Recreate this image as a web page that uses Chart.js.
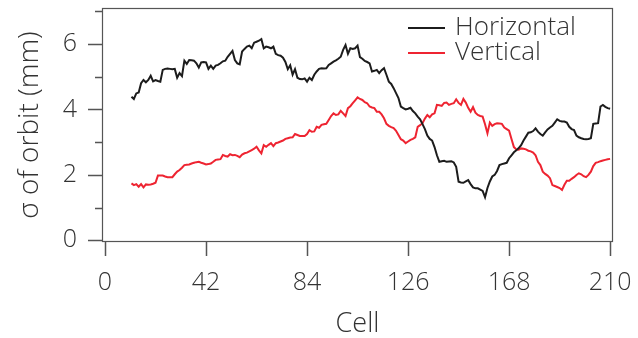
<!DOCTYPE html>
<html>
<head>
<meta charset="utf-8">
<script src="https://cdn.jsdelivr.net/npm/chart.js@4.4.1/dist/chart.umd.min.js"></script>
<style>
  html, body { margin: 0; padding: 0; background: #ffffff; }
  #wrap { width: 638px; height: 338px; }
</style>
</head>
<body>
<div id="wrap"><canvas id="c" width="638" height="338"></canvas></div>
<script>
// Cell numbers along the ring
const cells = [
  11,12,13,14,15,16,17,18,19,20,21,22,23,24,25,26,27,28,29,30,
  31,32,33,34,35,36,37,38,39,40,41,42,43,44,45,46,47,48,49,50,
  51,52,53,54,55,56,57,58,59,60,61,62,63,64,65,66,67,68,69,70,
  71,72,73,74,75,76,77,78,79,80,81,82,83,84,85,86,87,88,89,90,
  91,92,93,94,95,96,97,98,99,100,101,102,103,104,105,106,107,108,109,110,
  111,112,113,114,115,116,117,118,119,120,121,122,123,124,125,126,127,128,129,130,
  131,132,133,134,135,136,137,138,139,140,141,142,143,144,145,146,147,148,149,150,
  151,152,153,154,155,156,157,158,159,160,161,162,163,164,165,166,167,168,169,170,
  171,172,173,174,175,176,177,178,179,180,181,182,183,184,185,186,187,188,189,190,
  191,192,193,194,195,196,197,198,199,200,201,202,203,204,205,206,207,208,209,210
];

// Horizontal orbit sigma (mm)
const horizontal = [
  4.39,4.32,4.49,4.52,4.80,4.90,4.83,4.90,5.03,4.86,4.90,4.87,4.85,5.21,5.24,5.25,5.24,5.23,5.24,4.97,
  5.11,5.02,5.49,5.39,5.51,5.50,5.49,5.41,5.28,5.44,5.45,5.44,5.24,5.34,5.24,5.34,5.36,5.41,5.47,5.49,
  5.61,5.70,5.79,5.51,5.41,5.38,5.77,5.85,5.92,5.95,5.87,6.04,6.07,6.10,6.15,5.87,5.92,5.90,5.87,5.92,
  5.70,5.66,5.64,5.58,5.45,5.23,5.35,5.06,5.23,4.97,4.93,4.92,4.95,4.85,4.97,4.90,5.06,5.16,5.24,5.26,
  5.25,5.26,5.36,5.41,5.46,5.50,5.55,5.61,5.82,5.97,5.70,5.87,5.85,5.87,5.95,5.60,5.55,5.48,5.45,5.41,
  5.16,5.18,5.21,5.11,5.20,5.26,5.06,4.85,4.78,4.65,4.50,4.35,4.09,4.04,4.00,4.02,4.05,3.95,3.88,3.78,
  3.70,3.55,3.40,3.20,3.10,3.05,2.85,2.60,2.40,2.42,2.43,2.40,2.41,2.42,2.38,2.25,1.79,1.77,1.76,1.80,
  1.84,1.72,1.62,1.59,1.59,1.55,1.51,1.32,1.60,1.80,1.95,2.00,2.12,2.30,2.33,2.35,2.37,2.51,2.60,2.69,
  2.75,2.82,2.91,3.05,3.17,3.29,3.30,3.34,3.42,3.32,3.25,3.20,3.30,3.39,3.45,3.50,3.60,3.70,3.65,3.63,
  3.63,3.60,3.47,3.40,3.37,3.20,3.15,3.12,3.10,3.09,3.10,3.12,3.56,3.57,3.58,4.09,4.14,4.08,4.04,4.02
];

// Vertical orbit sigma (mm)
const vertical = [
  1.74,1.69,1.72,1.64,1.72,1.62,1.71,1.70,1.71,1.73,1.76,1.98,1.98,1.98,1.95,1.93,1.93,1.93,2.02,2.10,
  2.15,2.22,2.30,2.31,2.32,2.35,2.37,2.39,2.40,2.37,2.35,2.32,2.33,2.35,2.40,2.46,2.47,2.48,2.61,2.58,
  2.56,2.63,2.60,2.61,2.58,2.54,2.62,2.66,2.68,2.72,2.76,2.80,2.86,2.75,2.66,2.91,2.86,2.92,2.97,2.88,
  2.97,2.99,3.02,3.05,3.10,3.12,3.14,3.15,3.25,3.22,3.19,3.19,3.19,3.25,3.37,3.32,3.33,3.47,3.44,3.53,
  3.55,3.56,3.68,3.80,3.88,3.83,3.85,3.96,3.88,3.80,4.04,4.10,4.19,4.28,4.37,4.32,4.29,4.22,4.19,4.09,
  4.06,4.04,3.93,3.93,3.85,3.73,3.56,3.50,3.46,3.43,3.35,3.22,3.09,3.05,2.97,3.02,3.07,3.10,3.15,3.47,
  3.52,3.58,3.72,3.83,3.76,3.85,3.88,4.14,4.13,4.11,4.20,4.21,4.14,4.17,4.19,4.31,4.20,4.14,4.32,4.21,
  4.05,3.93,4.07,3.90,3.83,3.80,3.78,3.55,3.27,3.60,3.50,3.55,3.58,3.57,3.56,3.45,3.40,3.35,3.10,2.85,
  2.78,2.77,2.81,2.80,2.78,2.74,2.72,2.68,2.60,2.40,2.30,2.10,2.03,1.98,1.90,1.69,1.66,1.63,1.60,1.54,
  1.70,1.82,1.82,1.88,1.93,2.00,2.05,2.02,1.96,1.93,2.00,2.10,2.27,2.37,2.39,2.42,2.44,2.46,2.48,2.49
];

const xTicks = [0, 42, 84, 126, 168, 210];
const yTicks = [0, 2, 4, 6];
const yMinorTicks = [1, 3, 5, 7];

const FONT = '"Open Sans", "DejaVu Sans", sans-serif';
const TEXT = '#333333';
const AXIS = '#555555';

const toPoints = vals => cells.map((c, i) => ({ x: c, y: vals[i] }));

// Frame, detached tick marks and the in-plot legend
const decorations = {
  id: 'decorations',
  afterDraw(chart) {
    const { ctx, chartArea: a, scales } = chart;
    ctx.save();
    ctx.strokeStyle = AXIS;
    ctx.lineWidth = 1.2;
    ctx.strokeRect(a.left + 0.5, a.top + 0.5, a.right - a.left - 1, a.bottom - a.top - 1);

    ctx.lineWidth = 1.5;
    ctx.beginPath();
    xTicks.forEach(v => {
      const px = Math.round(scales.x.getPixelForValue(v)) + 0.5;
      ctx.moveTo(px, a.bottom);
      ctx.lineTo(px, a.bottom + 14);
    });
    yTicks.forEach(v => {
      const py = Math.round(scales.y.getPixelForValue(v)) + 0.5;
      ctx.moveTo(a.left - 14, py);
      ctx.lineTo(a.left, py);
    });
    yMinorTicks.forEach(v => {
      const py = Math.round(scales.y.getPixelForValue(v)) + 0.5;
      ctx.moveTo(a.left - 7, py);
      ctx.lineTo(a.left, py);
    });
    ctx.stroke();

    // legend
    ctx.font = '300 26px ' + FONT;
    ctx.textBaseline = 'middle';
    ctx.textAlign = 'left';
    chart.data.datasets.forEach((ds, i) => {
      const y = a.top + 20 + i * 25;
      ctx.strokeStyle = ds.borderColor;
      ctx.lineWidth = 2;
      ctx.beginPath();
      ctx.moveTo(a.right - 205, y);
      ctx.lineTo(a.right - 168, y);
      ctx.stroke();
      ctx.fillStyle = TEXT;
      ctx.fillText(ds.label, a.right - 158, y);
    });
    ctx.restore();
  }
};

new Chart(document.getElementById('c'), {
  type: 'line',
  data: {
    datasets: [
      { label: 'Horizontal', data: toPoints(horizontal), borderColor: '#1c1c1c', borderWidth: 2, pointRadius: 0, tension: 0 },
      { label: 'Vertical', data: toPoints(vertical), borderColor: '#ee2431', borderWidth: 2, pointRadius: 0, tension: 0 }
    ]
  },
  options: {
    responsive: false,
    animation: false,
    events: [],
    layout: { padding: { left: 0, right: 25, top: 8, bottom: 0 } },
    plugins: { legend: { display: false }, tooltip: { enabled: false } },
    scales: {
      x: {
        type: 'linear',
        min: -1.25,
        max: 211.2,
        afterBuildTicks: s => { s.ticks = xTicks.map(v => ({ value: v })); },
        afterFit: s => { s.height = 96; s.paddingLeft = 0; s.paddingRight = 0; },
        grid: { display: false, drawTicks: false },
        border: { display: false },
        ticks: { padding: 26, color: TEXT, font: { family: FONT, size: 25, weight: 300 }, maxRotation: 0, autoSkip: false },
        title: { display: true, text: 'Cell', color: TEXT, font: { family: FONT, size: 27, weight: 300, lineHeight: 1 }, padding: { top: 0, bottom: 0 } }
      },
      y: {
        min: -0.05,
        max: 7.1,
        afterBuildTicks: s => { s.ticks = yTicks.map(v => ({ value: v })); },
        afterFit: s => { s.width = 102; s.paddingTop = 0; s.paddingBottom = 0; },
        grid: { display: false, drawTicks: false },
        border: { display: false },
        ticks: { padding: 25, color: TEXT, font: { family: FONT, size: 25, weight: 300 } },
        title: { display: true, text: 'σ of orbit (mm)', color: TEXT, font: { family: FONT, size: 28, weight: 300, lineHeight: 1 }, padding: { top: 16, bottom: 0 } }
      }
    }
  },
  plugins: [decorations]
});
</script>
</body>
</html>
